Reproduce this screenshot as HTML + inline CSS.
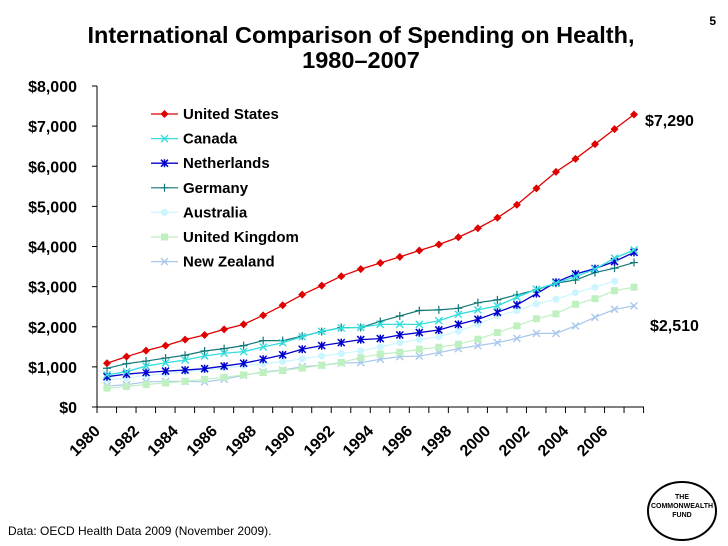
<!DOCTYPE html>
<html><head><meta charset="utf-8">
<style>
html,body{margin:0;padding:0;background:#fff;}
svg{display:block;font-family:"Liberation Sans",Arial,sans-serif;}
</style></head>
<body>
<svg id="chart" width="728" height="546" viewBox="0 0 728 546" xmlns="http://www.w3.org/2000/svg">
<text x="716" y="25" font-size="12" font-weight="bold" text-anchor="end">5</text>
<text x="361" y="43" font-size="23.5" font-weight="bold" text-anchor="middle">International Comparison of Spending on Health,</text>
<text x="361" y="68" font-size="23.5" font-weight="bold" text-anchor="middle">1980–2007</text>
<g id="axes"></g>
<g id="series"></g>
<g id="legend"></g>
<text x="645" y="126" font-size="16" font-weight="bold">$7,290</text>
<text x="650" y="331" font-size="16" font-weight="bold">$2,510</text>
<text x="8" y="535" font-size="12">Data: OECD Health Data 2009 (November 2009).</text>
<g>
<ellipse cx="682" cy="511" rx="34" ry="29" fill="#fff" stroke="#000" stroke-width="2"/>
<text x="682" y="499" font-size="7" font-weight="bold" text-anchor="middle">THE</text>
<text x="682" y="508" font-size="7" font-weight="bold" text-anchor="middle">COMMONWEALTH</text>
<text x="682" y="517" font-size="7" font-weight="bold" text-anchor="middle">FUND</text>
</g>
</svg>
<script>
const years = [1980,1981,1982,1983,1984,1985,1986,1987,1988,1989,1990,1991,1992,1993,1994,1995,1996,1997,1998,1999,2000,2001,2002,2003,2004,2005,2006,2007];
const yTicks = [0,1000,2000,3000,4000,5000,6000,7000,8000];
const yTickLabels = ["$0","$1,000","$2,000","$3,000","$4,000","$5,000","$6,000","$7,000","$8,000"];
const xTickLabels = ["1980","1982","1984","1986","1988","1990","1992","1994","1996","1998","2000","2002","2004","2006"];
const seriesNames = ["United States","Canada","Netherlands","Germany","Australia","United Kingdom","New Zealand"];
const usValues = [1090,1255,1405,1530,1680,1795,1935,2060,2285,2535,2800,3025,3260,3435,3590,3740,3900,4050,4230,4455,4715,5040,5450,5860,6185,6550,6925,7290];
const canadaValues = [800,880,1020,1100,1170,1270,1340,1380,1495,1600,1755,1885,1970,1985,2060,2060,2060,2150,2310,2420,2520,2735,2935,3085,3250,3435,3710,3915];
const netherlandsValues = [755,820,860,895,920,955,1020,1090,1190,1300,1440,1530,1605,1680,1705,1795,1855,1920,2060,2185,2360,2545,2825,3110,3315,3450,3625,3855];
const germanyValues = [965,1080,1145,1220,1290,1395,1455,1530,1655,1655,1765,1880,1980,1980,2135,2270,2405,2420,2460,2600,2670,2795,2920,3085,3165,3350,3460,3600];
const australiaValues = [670,720,780,830,880,920,970,1030,1080,1130,1200,1270,1330,1400,1500,1600,1680,1755,1890,2060,2270,2400,2570,2685,2850,2985,3135,null];
const ukValues = [470,510,560,600,640,690,740,800,860,910,970,1040,1110,1230,1320,1365,1440,1490,1565,1690,1855,2020,2200,2320,2560,2700,2900,2985];
const nzValues = [525,555,625,640,640,625,690,790,875,920,1005,1040,1095,1105,1190,1255,1270,1355,1455,1530,1605,1710,1835,1835,2020,2235,2435,2520];

const NS="http://www.w3.org/2000/svg";
const X0=97, X1=644, Y0=407, YT=86;
function xScale(yr){return 107+(yr-1980)*19.52;}
function yScale(v){return Y0-(v/8000)*(Y0-YT);}
function mk(tag,attrs,parent){const e=document.createElementNS(NS,tag);for(const k in attrs)e.setAttribute(k,attrs[k]);parent.appendChild(e);return e;}

const axes=document.getElementById('axes');
let l=mk('line',{x1:X0,y1:YT,x2:X0,y2:Y0,stroke:'#000','stroke-width':1},axes);


l=mk('line',{x1:X0,y1:Y0,x2:X1,y2:Y0,stroke:'#000','stroke-width':1},axes);


yTicks.forEach((v,i)=>{
  const y=yScale(v);
  mk('line',{x1:X0-5,y1:y,x2:X0,y2:y,stroke:'#000'},axes);
  const t=mk('text',{x:X0-20,y:y+6,'font-size':16,'font-weight':'bold','text-anchor':'end'},axes);
  t.textContent=yTickLabels[i];
  
  
});
for(let i=0;i<=years.length;i++){
  const x=X0+i*19.52;
  mk('line',{x1:x,y1:Y0,x2:x,y2:Y0+6,stroke:'#000'},axes);
}
xTickLabels.forEach(lab=>{
  const x=xScale(+lab)-6, y=432;
  const t=mk('text',{x:x,y:y,'font-size':16,'font-weight':'bold','text-anchor':'end',transform:`rotate(-45 ${x} ${y})`},axes);
  t.textContent=lab;
  
  
});

const allValues=[usValues,canadaValues,netherlandsValues,germanyValues,australiaValues,ukValues,nzValues];
const colors=['#e00000','#33dddd','#0000cc','#117777','#ccf6ff','#bff0c0','#a8c8ec'];
const markers=['diamond','x','star','plus','circle','square','x'];
const widths=[1.3,1.3,1.3,1.2,1.2,1.2,1.2];
function marker(g,type,x,y,c){
  let m;
  if(type==='diamond') m=mk('polygon',{points:`${x},${y-4} ${x+4},${y} ${x},${y+4} ${x-4},${y}`,fill:c},g);
  else if(type==='x') m=mk('path',{d:`M${x-3.5},${y-3.5}L${x+3.5},${y+3.5}M${x-3.5},${y+3.5}L${x+3.5},${y-3.5}`,stroke:c,'stroke-width':1.4},g);
  else if(type==='star') m=mk('path',{d:`M${x-3.5},${y-3.5}L${x+3.5},${y+3.5}M${x-3.5},${y+3.5}L${x+3.5},${y-3.5}M${x},${y-4}L${x},${y+4}`,stroke:c,'stroke-width':1.5},g);
  else if(type==='plus') m=mk('path',{d:`M${x-4},${y}L${x+4},${y}M${x},${y-4}L${x},${y+4}`,stroke:c,'stroke-width':1.2},g);
  else if(type==='circle') m=mk('circle',{cx:x,cy:y,r:3.5,fill:c},g);
  else m=mk('rect',{x:x-3.5,y:y-3.5,width:7,height:7,fill:c},g);
  return m;
}
const sg=document.getElementById('series');
for(let s=allValues.length-1;s>=0;s--){
  const g=mk('g',{},sg);
  
  
  const pts=[];
  allValues[s].forEach((v,i)=>{if(v!==null)pts.push([xScale(years[i]),yScale(v)]);});
  const pl=mk('polyline',{points:pts.map(p=>p.join(',')).join(' '),fill:'none',stroke:colors[s],'stroke-width':widths[s]},g);
  
  
  pts.forEach(p=>{
    const m=marker(g,markers[s],p[0],p[1],colors[s]);
    
    
  });
}
const lg=document.getElementById('legend');
seriesNames.forEach((n,i)=>{
  const y=114+i*24.6;
  const g=mk('g',{},lg);
  
  
  mk('line',{x1:151,y1:y,x2:178,y2:y,stroke:colors[i],'stroke-width':widths[i]},g);
  marker(g,markers[i],164.5,y,colors[i]);
  const t=mk('text',{x:183,y:y+5,'font-size':15,'font-weight':'bold'},g);
  t.textContent=n;
});
</script>
</body></html>
